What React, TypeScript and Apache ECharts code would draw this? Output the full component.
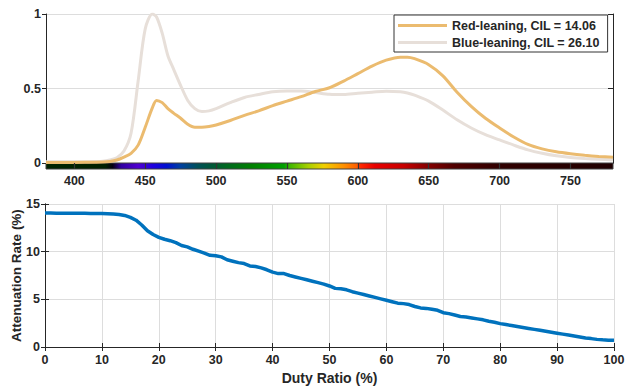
import React, { useEffect, useRef } from "react";
import * as echarts from "echarts";

// ---- Data ----
const wavelengths = [380, 400, 415, 420, 425, 430, 435, 440, 445, 450, 455, 458, 462, 466, 470, 475, 480, 485, 490, 495, 500, 510, 520, 530, 540, 550, 560, 570, 580, 590, 600, 610, 620, 630, 635, 640, 650, 660, 670, 680, 690, 700, 710, 720, 730, 740, 750, 760, 770, 780];
const redLeaning = [0.004, 0.004, 0.005, 0.006, 0.01, 0.02, 0.04, 0.065, 0.12, 0.24, 0.37, 0.42, 0.405, 0.365, 0.335, 0.3, 0.26, 0.24, 0.24, 0.245, 0.255, 0.285, 0.32, 0.35, 0.385, 0.415, 0.445, 0.48, 0.505, 0.55, 0.6, 0.65, 0.69, 0.71, 0.71, 0.7, 0.66, 0.585, 0.475, 0.38, 0.3, 0.235, 0.175, 0.125, 0.095, 0.075, 0.062, 0.052, 0.044, 0.038];
const blueLeaning = [0.008, 0.008, 0.01, 0.012, 0.02, 0.035, 0.08, 0.2, 0.55, 0.9, 1.0, 0.98, 0.87, 0.72, 0.63, 0.52, 0.42, 0.365, 0.345, 0.35, 0.365, 0.405, 0.44, 0.46, 0.478, 0.483, 0.483, 0.473, 0.462, 0.46, 0.468, 0.475, 0.482, 0.478, 0.47, 0.455, 0.415, 0.355, 0.29, 0.235, 0.19, 0.155, 0.12, 0.088, 0.065, 0.048, 0.037, 0.03, 0.025, 0.02];
const seriesNames = ["Red-leaning, CIL = 14.06", "Blue-leaning, CIL = 26.10"];
const wavelengthTicks = [400, 450, 500, 550, 600, 650, 700, 750];
const spectrumStops: [number, string][] = [
  [380, "#002400"], [422, "#002000"], [427, "#050010"], [433, "#3000A0"], [445, "#5000D0"],
  [455, "#2000E0"], [465, "#0010D0"], [475, "#0040A0"], [487, "#005058"], [497, "#005838"],
  [507, "#006820"], [525, "#008000"], [548, "#00A000"], [552, "#40B800"], [565, "#A8D000"],
  [576, "#F0D000"], [590, "#FF9000"], [599, "#FF6000"], [602, "#FF2800"], [612, "#E80000"],
  [632, "#C80000"], [648, "#8A0000"], [668, "#500000"], [700, "#300000"], [780, "#200000"],
];

const dutyRatio = Array.from({ length: 101 }, (_, i) => i);
const attenuation = [
  14.05, 14.05, 14.04, 14.04, 14.03, 14.03, 14.02, 14.02, 14.01, 14.0, 14.0,
  13.98, 13.95, 13.9, 13.8, 13.6, 13.3, 12.8, 12.2, 11.8, 11.5,
  11.3, 11.15, 10.95, 10.65, 10.5, 10.25, 10.05, 9.85, 9.62, 9.58,
  9.45, 9.15, 9.0, 8.85, 8.75, 8.5, 8.45, 8.3, 8.1, 7.85,
  7.7, 7.7, 7.5, 7.35, 7.2, 7.05, 6.9, 6.75, 6.6, 6.4,
  6.15, 6.1, 6.0, 5.8, 5.65, 5.5, 5.35, 5.2, 5.05, 4.9,
  4.75, 4.6, 4.55, 4.45, 4.25, 4.1, 4.05, 3.95, 3.85, 3.6,
  3.5, 3.35, 3.2, 3.15, 3.05, 2.95, 2.85, 2.7, 2.6, 2.45,
  2.35, 2.25, 2.15, 2.05, 1.95, 1.85, 1.75, 1.65, 1.55, 1.45,
  1.35, 1.25, 1.15, 1.05, 0.95, 0.88, 0.8, 0.75, 0.72, 0.7,
];

const FONT = "'Liberation Sans', Arial, Helvetica, sans-serif";
const TXT = "#262626";
const AX = "#262626";
const GRIDC = "#DDDDDD";

export default function App() {
  const ref = useRef<HTMLDivElement>(null);
  useEffect(() => {
    if (!ref.current) return;
    const chart = echarts.init(ref.current, undefined, { renderer: "svg" });
    const label = { color: TXT, fontFamily: FONT, fontWeight: "bold" as const, fontSize: 12.5 };
    const xMin = 380, xMax = 780;
    const option: any = {
      animation: false,
      textStyle: { fontFamily: FONT },
      grid: [
        { left: 46, top: 14, width: 567, height: 149, outerBoundsMode: "none", containLabel: false },
        { left: 46, top: 163, width: 567, height: 6, outerBoundsMode: "none", containLabel: false },
        { left: 45, top: 204, width: 569, height: 143, outerBoundsMode: "none", containLabel: false },
      ],
      legend: {
        data: seriesNames,
        orient: "vertical",
        left: 394,
        top: 15,
        padding: [4, 8, 3, 4],
        itemGap: 4,
        itemWidth: 49,
        itemHeight: 3,
        icon: "rect",
        borderColor: "#333",
        borderWidth: 1,
        borderRadius: 0,
        backgroundColor: "#fff",
        textStyle: { ...label, fontSize: 12.5, padding: [0, 0, 0, 0] },
      },
      xAxis: [
        { gridIndex: 0, type: "value", min: xMin, max: xMax, show: false },
        {
          gridIndex: 0, type: "value", min: xMin, max: xMax, position: "top",
          axisLine: { show: true, lineStyle: { color: AX, width: 1 } },
          axisTick: { show: false }, axisLabel: { show: false }, splitLine: { show: false },
        },
        {
          gridIndex: 1, type: "value", min: xMin, max: xMax, position: "bottom", z: 10,
          axisLine: { show: false },
          axisTick: { show: true, inside: true, length: 6, customValues: wavelengthTicks, lineStyle: { color: "#333", width: 1.2 } },
          axisLabel: { ...label, margin: 5, customValues: wavelengthTicks },
          splitLine: { show: false },
        },
        {
          gridIndex: 2, type: "value", min: 0, max: 100, interval: 10,
          name: "Duty Ratio (%)", nameLocation: "middle", nameGap: 24,
          nameTextStyle: { ...label, fontSize: 14 },
          axisLine: { show: true, lineStyle: { color: AX, width: 1 } },
          axisTick: { show: true, inside: true, length: 4, lineStyle: { color: AX } },
          axisLabel: { ...label, margin: 6 },
          splitLine: { show: true, lineStyle: { color: GRIDC, width: 1 } },
        },
        {
          gridIndex: 2, type: "value", min: 0, max: 100, interval: 10, position: "top",
          axisLine: { show: true, lineStyle: { color: AX, width: 1 } },
          axisTick: { show: true, inside: true, length: 4, lineStyle: { color: AX } },
          axisLabel: { show: false }, splitLine: { show: false },
        },
      ],
      yAxis: [
        {
          gridIndex: 0, type: "value", min: 0, max: 1, interval: 0.5,
          axisLine: { show: true, lineStyle: { color: AX, width: 1 } },
          axisTick: { show: true, inside: false, length: 4, lineStyle: { color: AX } },
          axisLabel: { ...label, margin: 5 },
          splitLine: { show: true, lineStyle: { color: GRIDC, width: 1 } },
        },
        {
          gridIndex: 0, type: "value", min: 0, max: 1, interval: 0.5, position: "right",
          axisLine: { show: true, lineStyle: { color: AX, width: 1 } },
          axisTick: { show: true, inside: true, length: 5, lineStyle: { color: AX } },
          axisLabel: { show: false }, splitLine: { show: false },
        },
        { gridIndex: 1, type: "value", min: 0, max: 1, show: false },
        {
          gridIndex: 2, type: "value", min: 0, max: 15, interval: 5,
          name: "Attenuation Rate (%)", nameLocation: "middle", nameGap: 22, nameRotate: 90,
          nameMoveOverlap: false,
          nameTextStyle: { ...label, fontSize: 13.5 },
          axisLine: { show: true, lineStyle: { color: AX, width: 1 } },
          axisTick: { show: true, inside: true, length: 4, lineStyle: { color: AX } },
          axisLabel: { ...label, margin: 5 },
          splitLine: { show: true, lineStyle: { color: GRIDC, width: 1 } },
        },
        {
          gridIndex: 2, type: "value", min: 0, max: 15, interval: 5, position: "right",
          axisLine: { show: true, lineStyle: { color: AX, width: 1 } },
          axisTick: { show: true, inside: true, length: 4, lineStyle: { color: AX } },
          axisLabel: { show: false }, splitLine: { show: false },
        },
      ],
      series: [
        {
          name: seriesNames[0], type: "line", xAxisIndex: 0, yAxisIndex: 0,
          data: wavelengths.map((w, i) => [w, redLeaning[i]]),
          showSymbol: false, smooth: 0.3, color: "#EBBB6F",
          lineStyle: { width: 3, color: "#EBBB6F" }, z: 3,
        },
        {
          name: seriesNames[1], type: "line", xAxisIndex: 0, yAxisIndex: 0,
          data: wavelengths.map((w, i) => [w, blueLeaning[i]]),
          showSymbol: false, smooth: 0.3, color: "#E7DFD9",
          lineStyle: { width: 3, color: "#E7DFD9" }, z: 2,
        },
        {
          type: "custom", xAxisIndex: 2, yAxisIndex: 2, z: 1,
          data: [[xMin, xMax]],
          renderItem: (params: any, api: any) => {
            const a = api.value(0), b = api.value(1);
            const p0 = api.coord([a, 1]);
            const p1 = api.coord([b, 0]);
            const stops = spectrumStops.map(([wl, c]) => ({ offset: (wl - a) / (b - a), color: c }));
            return {
              type: "rect",
              shape: { x: p0[0], y: p0[1], width: p1[0] - p0[0], height: p1[1] - p0[1] },
              style: { fill: new echarts.graphic.LinearGradient(0, 0, 1, 0, stops), stroke: "#404040", lineWidth: 1 },
            };
          },
        },
        {
          type: "line", xAxisIndex: 3, yAxisIndex: 3,
          data: dutyRatio.map((d, i) => [d, attenuation[i]]),
          showSymbol: false, color: "#0072BD",
          lineStyle: { width: 3.5, color: "#0072BD" },
        },
      ],
    };
    chart.setOption(option);
    return () => chart.dispose();
  }, []);
  return <div ref={ref} style={{ position: "fixed", left: 0, top: 0, width: 626, height: 389, background: "#fff" }} />;
}
